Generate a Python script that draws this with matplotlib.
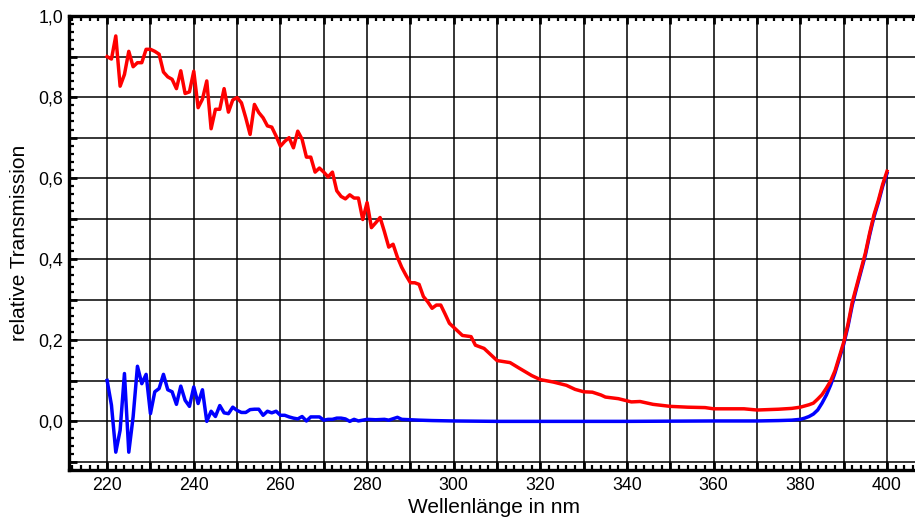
import matplotlib
matplotlib.use("Agg")
import matplotlib.pyplot as plt
from matplotlib.ticker import MultipleLocator, FuncFormatter

plt.rcParams['font.family'] = ['Liberation Sans', 'DejaVu Sans']

# Red series (wavelength nm, relative transmission)
red_wl = [220, 221, 222, 223, 224, 225, 226, 227, 228, 229, 230, 231, 232, 233, 234, 235,
          236, 237, 238, 239, 240, 241, 242, 243, 244, 245, 246, 247, 248, 249, 250, 251,
          252, 253, 254, 255, 256, 257, 258, 259, 260, 261, 262, 263, 264, 265, 266, 267,
          268, 269, 270, 271, 272, 273, 274, 275, 276, 277, 278, 279, 280, 281, 282, 283,
          284, 285, 286, 287, 288, 289, 290, 291, 292, 293, 294, 295, 296, 297, 298, 299,
          300, 302, 304, 305, 307, 310, 313, 315, 318, 320, 323, 326, 328, 330, 332, 334,
          335, 338, 341, 343, 346, 350, 354, 358, 360, 363, 367, 370, 375, 378, 380, 382,
          383, 384, 385, 386, 387, 388, 389, 390, 391, 392, 393, 394, 395, 396, 397, 398,
          399, 400]
red_t = [0.900, 0.894, 0.951, 0.827, 0.856, 0.913, 0.875, 0.885, 0.885, 0.918, 0.918, 0.913,
         0.906, 0.862, 0.850, 0.844, 0.821, 0.865, 0.809, 0.813, 0.864, 0.774, 0.795, 0.840,
         0.722, 0.770, 0.770, 0.821, 0.763, 0.793, 0.799, 0.786, 0.749, 0.708, 0.782, 0.762,
         0.749, 0.729, 0.726, 0.704, 0.679, 0.691, 0.700, 0.675, 0.716, 0.696, 0.652, 0.652,
         0.615, 0.625, 0.615, 0.603, 0.615, 0.569, 0.555, 0.549, 0.559, 0.551, 0.551, 0.498,
         0.540, 0.478, 0.490, 0.503, 0.468, 0.430, 0.437, 0.405, 0.380, 0.360, 0.342, 0.342,
         0.338, 0.308, 0.295, 0.279, 0.287, 0.287, 0.265, 0.242, 0.232, 0.212, 0.209, 0.188,
         0.180, 0.150, 0.145, 0.132, 0.113, 0.103, 0.097, 0.089, 0.079, 0.073, 0.072, 0.065,
         0.060, 0.056, 0.048, 0.049, 0.042, 0.037, 0.035, 0.034, 0.031, 0.031, 0.031, 0.028,
         0.030, 0.032, 0.035, 0.041, 0.045, 0.055, 0.066, 0.082, 0.100, 0.125, 0.160, 0.195,
         0.240, 0.295, 0.335, 0.375, 0.415, 0.465, 0.510, 0.545, 0.585, 0.617]

# Blue series
blue_wl = [220, 221, 222, 223, 224, 225, 226, 227, 228, 229, 230, 231, 232, 233, 234, 235,
           236, 237, 238, 239, 240, 241, 242, 243, 244, 245, 246, 247, 248, 249, 250, 251,
           252, 253, 254, 255, 256, 257, 258, 259, 260, 261, 262, 263, 264, 265, 266, 267,
           268, 269, 270, 271, 272, 273, 274, 275, 276, 277, 278, 279, 280, 282, 284, 285,
           287, 288, 290, 292, 295, 300, 310, 320, 340, 360, 370, 375, 378, 380, 381, 382,
           383, 384, 385, 386, 387, 388, 389, 390, 391, 392, 393, 394, 395, 396, 397, 398,
           399, 400]
blue_t = [0.101, 0.040, -0.076, -0.022, 0.118, -0.076, 0.011, 0.136, 0.093, 0.116, 0.019,
          0.073, 0.081, 0.116, 0.078, 0.073, 0.042, 0.087, 0.052, 0.037, 0.085, 0.044, 0.078,
          0.000, 0.025, 0.012, 0.039, 0.021, 0.019, 0.035, 0.027, 0.022, 0.022, 0.029, 0.030,
          0.030, 0.015, 0.025, 0.021, 0.025, 0.015, 0.015, 0.011, 0.008, 0.006, 0.012, 0.001,
          0.011, 0.011, 0.011, 0.003, 0.005, 0.005, 0.008, 0.008, 0.006, 0.000, 0.005, 0.001,
          0.003, 0.005, 0.004, 0.005, 0.003, 0.010, 0.005, 0.004, 0.003, 0.002, 0.001, 0.000,
          0.000, 0.000, 0.001, 0.001, 0.002, 0.003, 0.005, 0.008, 0.012, 0.018, 0.028, 0.045,
          0.065, 0.090, 0.120, 0.155, 0.190, 0.235, 0.288, 0.330, 0.370, 0.410, 0.460, 0.505,
          0.540, 0.580, 0.612]

x_label = "Wellenlänge in nm"
y_label = "relative Transmission"

fig = plt.figure(figsize=(9.15, 5.17), dpi=100)
ax = fig.add_axes([0.0754, 0.0909, 0.93, 0.878])

ax.plot(blue_wl, blue_t, color='#0000ff', lw=2.5, zorder=3, solid_joinstyle='round')
ax.plot(red_wl, red_t, color='#ff0000', lw=2.5, zorder=4, solid_joinstyle='round')

ax.set_xlim(211.2, 407.6)
ax.set_ylim(-0.12, 1.0)

ax.xaxis.set_major_locator(MultipleLocator(10))
ax.xaxis.set_minor_locator(MultipleLocator(2))
ax.yaxis.set_major_locator(MultipleLocator(0.1))
ax.yaxis.set_minor_locator(MultipleLocator(0.02))

def xfmt(v, pos):
    iv = int(round(v))
    return str(iv) if iv % 20 == 0 else ""

def yfmt(v, pos):
    k = int(round(v * 10))
    if k % 2 != 0:
        return ""
    return f"{v:.1f}".replace(".", ",").replace("-0,0", "0,0")

ax.xaxis.set_major_formatter(FuncFormatter(xfmt))
ax.yaxis.set_major_formatter(FuncFormatter(yfmt))

ax.grid(True, which='major', color='black', lw=1.1, zorder=1)
ax.set_axisbelow(True)

for s in ax.spines.values():
    s.set_linewidth(2.4)
    s.set_zorder(5)

ax.tick_params(which='both', direction='in', top=True, right=False, colors='black')
ax.tick_params(which='major', length=6, width=2.0, labelsize=12.8, pad=5)
ax.tick_params(which='minor', length=3.5, width=1.6)
ax.tick_params(axis='y', which='major', pad=4)

ax.set_xlabel(x_label, fontsize=15, labelpad=3)
ax.set_ylabel(y_label, fontsize=15, labelpad=7)

fig.savefig("out.png", dpi=100)
